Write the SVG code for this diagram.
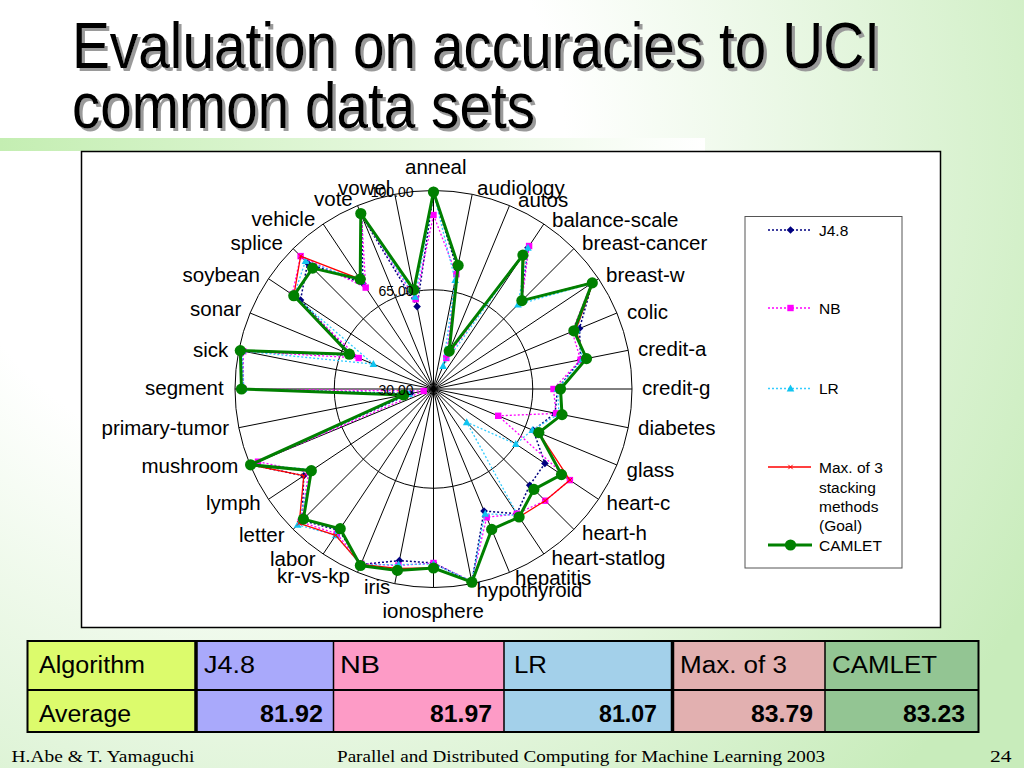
<svg xmlns="http://www.w3.org/2000/svg" width="1024" height="768" viewBox="0 0 1024 768">
<defs>
<radialGradient id="bg" gradientUnits="userSpaceOnUse" cx="250" cy="150" r="900">
<stop offset="0" stop-color="#ffffff"/><stop offset="0.35" stop-color="#ffffff"/><stop offset="1" stop-color="#c8ecbb"/>
</radialGradient>
<linearGradient id="bar" x1="0" y1="0" x2="1" y2="0">
<stop offset="0" stop-color="#c4eeb2"/><stop offset="1" stop-color="#ffffff"/>
</linearGradient>
<filter id="shadow" x="-5%" y="-20%" width="110%" height="140%">
<feOffset in="SourceAlpha" dx="2.5" dy="2.5" result="off"/>
<feFlood flood-color="#9a9a9a"/>
<feComposite in2="off" operator="in" result="sh"/>
<feMerge><feMergeNode in="sh"/><feMergeNode in="SourceGraphic"/></feMerge>
</filter>
<marker id="mJ" markerUnits="userSpaceOnUse" markerWidth="10" markerHeight="10" viewBox="-5 -5 10 10" refX="0" refY="0" overflow="visible"><path d="M0,-3.8 L3.8,0 L0,3.8 L-3.8,0Z" fill="#000080"/></marker>
<marker id="mN" markerUnits="userSpaceOnUse" markerWidth="10" markerHeight="10" viewBox="-5 -5 10 10" refX="0" refY="0" overflow="visible"><rect x="-3.2" y="-3.2" width="6.4" height="6.4" fill="#ff00ff"/></marker>
<marker id="mL" markerUnits="userSpaceOnUse" markerWidth="10" markerHeight="10" viewBox="-5 -5 10 10" refX="0" refY="0" overflow="visible"><path d="M0,-4 L3.8,3 L-3.8,3Z" fill="#11c4f0"/></marker>
<marker id="mM" markerUnits="userSpaceOnUse" markerWidth="10" markerHeight="10" viewBox="-5 -5 10 10" refX="0" refY="0" overflow="visible"><path d="M-2.2,-2.2L2.2,2.2M2.2,-2.2L-2.2,2.2" stroke="#ff0000" stroke-width="1"/></marker>
<marker id="mG" markerUnits="userSpaceOnUse" markerWidth="14" markerHeight="14" viewBox="-7 -7 14 14" refX="0" refY="0" overflow="visible"><circle r="5.6" fill="#008000"/></marker>
</defs>
<style>
.lbl{font-family:"Liberation Sans",Arial,sans-serif;font-size:20.5px;fill:#000}
.tick{font-family:"Liberation Sans",Arial,sans-serif;font-size:14px;fill:#000;text-anchor:end}
.leg{font-family:"Liberation Sans",Arial,sans-serif;font-size:15.5px;fill:#000}
.tb{font-family:"Liberation Sans",Arial,sans-serif;font-size:23px;fill:#000}
.tbb{font-family:"Liberation Sans",Arial,sans-serif;font-size:23px;font-weight:bold;fill:#000;text-anchor:end}
.ft{font-family:"Liberation Serif","Times New Roman",serif;font-size:17px;fill:#000}
.ttl{font-family:"Liberation Sans",Arial,sans-serif;font-size:64px;fill:#000}
.grid{stroke:#000;stroke-width:1;fill:none}
.sJ{fill:none;stroke:#000080;stroke-width:1.5;stroke-dasharray:2 2;marker-start:url(#mJ);marker-mid:url(#mJ)}
.sN{fill:none;stroke:#ff00ff;stroke-width:1.3;stroke-dasharray:2 2;marker-start:url(#mN);marker-mid:url(#mN)}
.sL{fill:none;stroke:#33ccff;stroke-width:1.3;stroke-dasharray:2 2;marker-start:url(#mL);marker-mid:url(#mL)}
.sM{fill:none;stroke:#ff0000;stroke-width:1.3;marker-start:url(#mM);marker-mid:url(#mM)}
.sG{fill:none;stroke:#008000;stroke-width:3;marker-start:url(#mG);marker-mid:url(#mG)}
</style>

<rect width="1024" height="768" fill="url(#bg)"/>
<rect x="0" y="138" width="705" height="13" fill="url(#bar)"/>

<g id="title" filter="url(#shadow)">
<text class="ttl" x="72" y="68" textLength="808" lengthAdjust="spacingAndGlyphs">Evaluation on accuracies to UCI</text>
<text class="ttl" x="72" y="128" textLength="463" lengthAdjust="spacingAndGlyphs">common data sets</text>
</g>

<g id="chart">
<rect x="81.5" y="151.5" width="859" height="476" fill="#ffffff" stroke="#000" stroke-width="1.5"/>
<g id="radar" transform="translate(433.5,389)">
<g id="gridlines" class="grid">
<circle r="99.25"/>
<circle r="198.5"/>
<path d="M0,-198.5L0,198.5M38.7,-194.7L-38.7,194.7M76,-183.4L-76,183.4M110.3,-165L-110.3,165M140.4,-140.4L-140.4,140.4M165,-110.3L-165,110.3M183.4,-76L-183.4,76M194.7,-38.7L-194.7,38.7M198.5,0L-198.5,0M194.7,38.7L-194.7,-38.7M183.4,76L-183.4,-76M165,110.3L-165,-110.3M140.4,140.4L-140.4,-140.4M110.3,165L-110.3,-165M76,183.4L-76,-183.4M38.7,194.7L-38.7,-194.7"/>
</g>
<g id="series">
<polygon id="s-j48" class="sJ" points="0,-196 23.8,-119.7 14.5,-35.1 94.4,-141.3 87.7,-87.7 158.8,-106.1 146,-60.5 147.1,-29.3 124,0 121.6,24.2 99.8,41.3 111.4,74.4 96.2,96.2 83.3,124.7 50.5,122 38.4,193.2 0,174 -34.1,171.6 -72.7,175.5 -94.4,141.3 -131.5,131.5 -129.7,86.7 -182.9,75.8 -23,4.6 -190,0 -191.3,-38 -81.3,-33.7 -133,-88.9 -125.9,-125.9 -70.6,-105.6 -71.9,-173.7 -16.4,-82.4"/>
<polygon id="s-nb" class="sN" points="0,-174 22.8,-114.8 12.8,-31 95.6,-143 88.4,-88.4 158,-105.6 138.6,-57.4 147.1,-29.3 120,0 122.6,24.4 64.7,26.8 136.4,91.1 111.7,111.7 83.3,124.7 53.2,128.4 38.2,192.2 0,174 -35.1,176.5 -72.3,174.6 -96.7,144.7 -132.9,132.9 -124.7,83.3 -175.5,72.7 -9.8,2 -190,0 -190.3,-37.8 -74.8,-31 -141.3,-94.4 -132.9,-132.9 -67.8,-101.4 -71.9,-173.7 -17.9,-89.8"/>
<polygon id="s-lr" class="sL" points="0,-196 21.7,-108.9 9.6,-23.1 94.4,-141.3 84.5,-84.5 158,-105.6 143.2,-59.3 149.1,-29.7 124,0 125.5,25 98.9,40.9 82.3,55 33.2,33.2 84.4,126.4 51.7,124.7 38.2,192.2 0,175 -34.9,175.6 -72.7,175.5 -97.8,146.3 -135.8,135.8 -120.6,80.6 -182,75.4 -24.5,4.9 -190,0 -191.3,-38 -60.1,-24.9 -139.7,-93.3 -128,-128 -72.2,-108.1 -72.3,-174.6 -18.3,-92.2"/>
<polygon id="s-max" class="sM" points="0,-197 24.6,-123.6 15.7,-37.9 90.6,-135.5 88.4,-88.4 159.6,-106.7 142.3,-58.9 152,-30.2 127,0 128.5,25.6 105.3,43.6 136.4,91.1 111.7,111.7 85.6,128 58.2,140.4 38.4,193.2 0,179 -35.7,179.5 -72.7,175.5 -97.8,146.3 -134.3,134.3 -129.7,86.7 -182.9,75.8 -29.4,5.9 -192,0 -193.2,-38.4 -85,-35.2 -139.7,-93.3 -132.9,-132.9 -73.3,-109.8 -72.7,-175.5 -19.5,-98.1"/>
<polygon id="s-camlet" class="sG" points="0,-197 24.6,-123.6 15.7,-37.9 89.4,-133.9 88.4,-88.4 158.8,-106.1 140.4,-58.2 153,-30.4 127,0 128.5,25.6 105.3,43.6 128,85.6 100.4,100.4 85.6,128 58.2,140.4 38.4,193.2 0,179 -36.1,181.4 -73.1,176.5 -93.3,139.7 -130.1,130.1 -122.2,81.7 -182.9,75.8 -29.9,6 -192,0 -193.2,-38.4 -84.1,-34.8 -139.7,-93.3 -120.9,-120.9 -73.3,-109.8 -72.7,-175.5 -19.7,-99.1"/>
</g>
</g>
<g id="axis-ticks">
<text class="tick" x="413.5" y="196.5">100.00</text>
<text class="tick" x="413.5" y="295.5">65.00</text>
<text class="tick" x="413.5" y="394.5">30.00</text>
</g>
<g id="category-labels">
<text class="lbl" x="405" y="174">anneal</text>
<text class="lbl" x="477" y="195">audiology</text>
<text class="lbl" x="518" y="207">autos</text>
<text class="lbl" x="552" y="227">balance-scale</text>
<text class="lbl" x="582" y="250">breast-cancer</text>
<text class="lbl" x="606" y="282">breast-w</text>
<text class="lbl" x="627" y="318.5">colic</text>
<text class="lbl" x="638" y="356">credit-a</text>
<text class="lbl" x="642" y="395">credit-g</text>
<text class="lbl" x="638" y="435">diabetes</text>
<text class="lbl" x="626.5" y="477">glass</text>
<text class="lbl" x="606.5" y="510">heart-c</text>
<text class="lbl" x="582" y="540">heart-h</text>
<text class="lbl" x="551.5" y="565">heart-statlog</text>
<text class="lbl" x="515" y="585">hepatitis</text>
<text class="lbl" x="476.5" y="597">hypothyroid</text>
<text class="lbl" x="382.5" y="618">ionosphere</text>
<text class="lbl" x="364" y="594">iris</text>
<text class="lbl" x="277" y="583">kr-vs-kp</text>
<text class="lbl" x="270" y="566">labor</text>
<text class="lbl" x="239" y="542">letter</text>
<text class="lbl" x="206" y="510">lymph</text>
<text class="lbl" x="141.5" y="473">mushroom</text>
<text class="lbl" x="101.5" y="435">primary-tumor</text>
<text class="lbl" x="145" y="395">segment</text>
<text class="lbl" x="193" y="357">sick</text>
<text class="lbl" x="190" y="316">sonar</text>
<text class="lbl" x="182.5" y="282">soybean</text>
<text class="lbl" x="230.5" y="250">splice</text>
<text class="lbl" x="251.5" y="226">vehicle</text>
<text class="lbl" x="314" y="206">vote</text>
<text class="lbl" x="338" y="195">vowel</text>
</g>
<g id="legend">
<rect x="745" y="216.5" width="157" height="351.5" fill="#ffffff" stroke="#555" stroke-width="1"/>
<path d="M768,230 L811,230" class="sJ" style="marker-start:none;marker-mid:none"/>
<path d="M790.5,230 L790.6,230" fill="none" style="marker-start:url(#mJ)"/>
<text class="leg" x="819" y="235.5">J4.8</text>
<path d="M768,308 L811,308" class="sN" style="marker-start:none;marker-mid:none"/>
<path d="M790.5,308 L790.6,308" fill="none" style="marker-start:url(#mN)"/>
<text class="leg" x="819" y="313.5">NB</text>
<path d="M768,388.5 L811,388.5" class="sL" style="marker-start:none;marker-mid:none"/>
<path d="M790.5,388.5 L790.6,388.5" fill="none" style="marker-start:url(#mL)"/>
<text class="leg" x="819" y="393.5">LR</text>
<path d="M768,467 L811,467" class="sM" style="marker-start:none;marker-mid:none"/>
<path d="M790.5,467 L790.6,467" fill="none" style="marker-start:url(#mM)"/>
<text class="leg" x="819" y="473">Max. of 3</text>
<text class="leg" x="819" y="492.5">stacking</text>
<text class="leg" x="819" y="512">methods</text>
<text class="leg" x="819" y="531">(Goal)</text>
<path d="M768,545 L812,545" class="sG" style="marker-start:none;marker-mid:none"/>
<path d="M790.5,545 L790.6,545" fill="none" style="marker-start:url(#mG)"/>
<text class="leg" x="819" y="550.5">CAMLET</text>
</g>
</g>

<g id="table">
<rect x="27.5" y="641" width="168.5" height="91" fill="#dcfb6c"/>
<rect x="196" y="641" width="137.5" height="91" fill="#a9a9fb"/>
<rect x="333.5" y="641" width="170.5" height="91" fill="#fd9bc6"/>
<rect x="504" y="641" width="168.5" height="91" fill="#a3d0ea"/>
<rect x="672.5" y="641" width="152.5" height="91" fill="#e2b0b0"/>
<rect x="825" y="641" width="153.5" height="91" fill="#93c593"/>
<g stroke="#000" fill="none">
<rect x="27.5" y="641" width="951" height="91" stroke-width="2"/>
<line x1="27.5" y1="690" x2="978.5" y2="690" stroke-width="2"/>
<line x1="196" y1="641" x2="196" y2="732" stroke-width="3.5"/>
<line x1="333.5" y1="641" x2="333.5" y2="732" stroke-width="1.5"/>
<line x1="504" y1="641" x2="504" y2="732" stroke-width="1.5"/>
<line x1="672.5" y1="641" x2="672.5" y2="732" stroke-width="3.5"/>
<line x1="825" y1="641" x2="825" y2="732" stroke-width="1.5"/>
</g>
<text class="tb" x="39" y="673" textLength="106" lengthAdjust="spacingAndGlyphs">Algorithm</text>
<text class="tb" x="204" y="673" textLength="51" lengthAdjust="spacingAndGlyphs">J4.8</text>
<text class="tb" x="340" y="673" textLength="40" lengthAdjust="spacingAndGlyphs">NB</text>
<text class="tb" x="514" y="673" textLength="33" lengthAdjust="spacingAndGlyphs">LR</text>
<text class="tb" x="680" y="673" textLength="107" lengthAdjust="spacingAndGlyphs">Max. of 3</text>
<text class="tb" x="832" y="673" textLength="105" lengthAdjust="spacingAndGlyphs">CAMLET</text>
<text class="tb" x="39" y="722" textLength="92" lengthAdjust="spacingAndGlyphs">Average</text>
<text class="tbb" x="323" y="722" textLength="63" lengthAdjust="spacingAndGlyphs">81.92</text>
<text class="tbb" x="492" y="722" textLength="62" lengthAdjust="spacingAndGlyphs">81.97</text>
<text class="tbb" x="657" y="722" textLength="58" lengthAdjust="spacingAndGlyphs">81.07</text>
<text class="tbb" x="813" y="722" textLength="62" lengthAdjust="spacingAndGlyphs">83.79</text>
<text class="tbb" x="965" y="722" textLength="62" lengthAdjust="spacingAndGlyphs">83.23</text>
</g>

<g id="footer">
<text class="ft" x="11.5" y="762" textLength="183" lengthAdjust="spacingAndGlyphs">H.Abe &amp; T. Yamaguchi</text>
<text class="ft" x="337" y="762" textLength="488" lengthAdjust="spacingAndGlyphs">Parallel and Distributed Computing for Machine Learning 2003</text>
<text class="ft" x="990" y="762" textLength="21.5" lengthAdjust="spacingAndGlyphs">24</text>
</g>
</svg>
